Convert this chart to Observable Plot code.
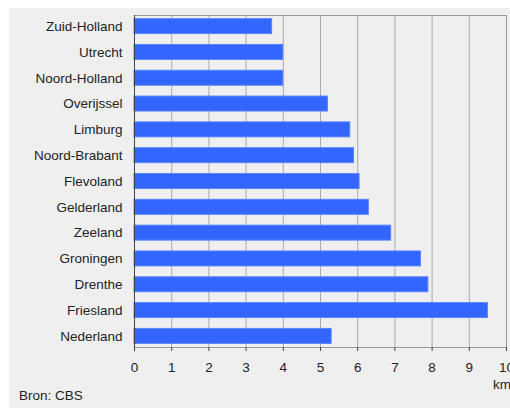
<!DOCTYPE html>
<html>
<head>
<meta charset="utf-8">
<script src="https://cdn.jsdelivr.net/npm/d3@7"></script>
<script src="https://cdn.jsdelivr.net/npm/@observablehq/plot@0.6"></script>
<style>
  html, body { margin: 0; padding: 0; background: #fff; }
  #wrap { position: relative; width: 510px; height: 408px; overflow: hidden; font-family: "Liberation Sans", Arial, sans-serif; }
  #bg { position: absolute; left: 9px; top: 8px; width: 501px; height: 400px; background: #efefef; }
  #chart { position: absolute; left: 0; top: 0; }
  .note { position: absolute; font-size: 13.5px; color: #222; line-height: 1; }
</style>
</head>
<body>
<div id="wrap">
  <div id="bg"></div>
  <div id="chart"></div>
  <div class="note" style="left:493px; top:378px;">km</div>
  <div class="note" style="left:19px; top:389px;">Bron: CBS</div>
</div>
<script>
const provinces = ["Zuid-Holland","Utrecht","Noord-Holland","Overijssel","Limburg","Noord-Brabant","Flevoland","Gelderland","Zeeland","Groningen","Drenthe","Friesland","Nederland"];
const distances = [3.7, 4.0, 4.0, 5.2, 5.8, 5.9, 6.05, 6.3, 6.9, 7.7, 7.9, 9.5, 5.3];
const xTicks = [0,1,2,3,4,5,6,7,8,9,10];

const data = provinces.map((p, i) => ({province: p, value: distances[i]}));

const chart = Plot.plot({
  width: 510,
  height: 408,
  marginLeft: 134,
  marginRight: 4,
  marginTop: 15,
  marginBottom: 61,
  style: {background: "transparent", fontFamily: "'Liberation Sans', Arial, sans-serif", fontSize: "13.5px", color: "#222"},
  x: {domain: [0, 10], ticks: xTicks, label: null},
  y: {domain: provinces, label: null, paddingInner: 0.42, paddingOuter: 0.14, round: false},
  marks: [
    Plot.gridX(xTicks, {stroke: "#aaa", strokeOpacity: 1}),
    Plot.frame({stroke: "#999"}),
    Plot.barX(data, {x: "value", y: "province", fill: "#3366ff", stroke: "#5a84ff", strokeWidth: 1}),
    Plot.ruleX([0], {stroke: "#444"}),
    Plot.ruleY([0], {frameAnchor: "bottom", stroke: "#444"}),
    Plot.axisX({ticks: xTicks, tickSize: 4, tickPadding: 11, stroke: "#444", fontSize: 13.5}),
    Plot.axisY({tickSize: 0, tickPadding: 12, fontSize: 13.5})
  ]
});
document.getElementById("chart").appendChild(chart);
</script>
</body>
</html>
